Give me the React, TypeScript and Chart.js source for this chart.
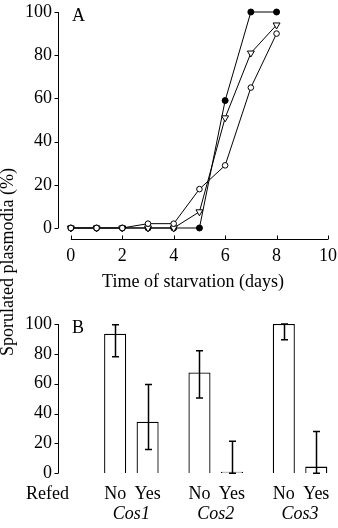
import { useEffect, useRef } from "react";
import { Chart, registerables } from "chart.js";

Chart.register(...registerables);

// Panel A: sporulation over time of starvation
const days = [0, 1, 2, 3, 4, 5, 6, 7, 8];
const filledCircleSeries = [0, 0, 0, 0, 0, 0, 59, 100, 100];
const openTriangleSeries = [0, 0, 0, 0, 0, 7.5, 51, 81, 94];
const openCircleSeries = [0, 0, 0, 2, 2, 18, 29, 65, 90];
const dayTicks = [0, 2, 4, 6, 8, 10];
const percentTicks = [0, 20, 40, 60, 80, 100];

// Panel B: sporulation with / without refeeding
const genes = ["Cos1", "Cos2", "Cos3"];
const refedLabels = ["No", "Yes"];
const notRefed = [93.5, 67.5, 100];
const notRefedLow = [78, 50.5, 89.5];
const notRefedHigh = [99.5, 82, 100];
const refed = [34.5, 0, 4.5];
const refedLow = [16, 0, 0];
const refedHigh = [59.5, 21.5, 28];

const SERIF = '"Liberation Serif", "Times New Roman", serif';
const FONT_SIZE = 18;
const W = 338;
const A_H = 300;
const B_TOP = 300;
const B_H = 228;

type AxisOpts = {
  yFrom: number;
  yTo: number;
  xFrom?: number;
  xTo?: number;
  xTickValues?: number[];
  panel: string;
};

// Detached axis lines with short tick marks, plus the panel letter
function axesPlugin(o: AxisOpts) {
  return {
    id: "detachedAxes",
    afterDraw(chart: any) {
      const { ctx, chartArea, scales } = chart;
      const xs = scales.x;
      const ys = scales.y;
      ctx.save();
      ctx.strokeStyle = "#000";
      ctx.lineWidth = 1;
      const left = Math.round(chartArea.left) + 0.5;
      const yTop = ys.getPixelForValue(o.yTo);
      const yBot = ys.getPixelForValue(o.yFrom);
      ctx.beginPath();
      ctx.moveTo(left, yTop);
      ctx.lineTo(left, yBot);
      percentTicks.forEach((v) => {
        const p = Math.round(ys.getPixelForValue(v)) + 0.5;
        ctx.moveTo(left, p);
        ctx.lineTo(left - 4, p);
      });
      ctx.stroke();
      if (o.xFrom !== undefined && o.xTo !== undefined) {
        const bottom = Math.round(chartArea.bottom) + 0.5;
        ctx.beginPath();
        ctx.moveTo(xs.getPixelForValue(o.xFrom), bottom);
        ctx.lineTo(xs.getPixelForValue(o.xTo), bottom);
        (o.xTickValues || []).forEach((v) => {
          const p = Math.round(xs.getPixelForValue(v)) + 0.5;
          ctx.moveTo(p, bottom);
          ctx.lineTo(p, bottom - 4);
        });
        ctx.stroke();
      }
      ctx.fillStyle = "#000";
      ctx.font = `${FONT_SIZE}px ${SERIF}`;
      ctx.textAlign = "left";
      ctx.textBaseline = "alphabetic";
      ctx.fillText(o.panel, chartArea.left + 14, ys.getPixelForValue(100) + 9);
      ctx.restore();
    },
  };
}

// Error bars and the Refed No/Yes row under the bars
const errorBarsPlugin = {
  id: "errorBars",
  afterDatasetsDraw(chart: any) {
    const { ctx, scales } = chart;
    const ys = scales.y;
    const lows = [notRefedLow, refedLow];
    const highs = [notRefedHigh, refedHigh];
    ctx.save();
    ctx.strokeStyle = "#000";
    ctx.lineWidth = 1.5;
    chart.data.datasets.forEach((_: any, d: number) => {
      const meta = chart.getDatasetMeta(d);
      meta.data.forEach((el: any, i: number) => {
        const x = Math.round(el.x) + 0.5;
        const yl = ys.getPixelForValue(lows[d][i]);
        const yh = ys.getPixelForValue(highs[d][i]);
        ctx.beginPath();
        ctx.moveTo(x, yl);
        ctx.lineTo(x, yh);
        ctx.moveTo(x - 3.5, yh);
        ctx.lineTo(x + 3.5, yh);
        ctx.moveTo(x - 3.5, yl);
        ctx.lineTo(x + 3.5, yl);
        ctx.stroke();
      });
    });
    ctx.restore();
  },
  afterDraw(chart: any) {
    const { ctx, chartArea } = chart;
    ctx.save();
    ctx.fillStyle = "#000";
    ctx.font = `${FONT_SIZE}px ${SERIF}`;
    ctx.textBaseline = "alphabetic";
    const base = chartArea.bottom + 26;
    ctx.textAlign = "left";
    ctx.fillText("Refed", chartArea.left - 32, base);
    ctx.textAlign = "center";
    chart.data.datasets.forEach((_: any, d: number) => {
      chart.getDatasetMeta(d).data.forEach((el: any) => {
        ctx.fillText(refedLabels[d], el.x, base);
      });
    });
    ctx.restore();
  },
};

const tickFont = { family: SERIF, size: FONT_SIZE };

// Fixed axis box sizes so the plot areas line up between the two panels
const fixHeight = (h: number) => (s: any) => {
  s.height = h;
  s.paddingLeft = 0;
  s.paddingRight = 0;
};
const fixWidth = (w: number) => (s: any) => {
  s.width = w;
  s.paddingTop = 0;
  s.paddingBottom = 0;
};

export default function App() {
  const refA = useRef<HTMLCanvasElement>(null);
  const refB = useRef<HTMLCanvasElement>(null);

  useEffect(() => {
    const pts = (vals: number[]) => days.map((d, i) => ({ x: d, y: vals[i] }));
    const lineDs = (label: string, vals: number[], style: string, fill: string, r: number, rot = 0) => ({
      label,
      data: pts(vals),
      borderColor: "#000",
      borderWidth: 1,
      pointStyle: style,
      pointRotation: rot,
      pointRadius: r,
      pointBackgroundColor: fill,
      pointBorderColor: "#000",
      pointBorderWidth: 1,
      clip: false,
    });

    const chartA = new Chart(refA.current!, {
      type: "line",
      data: {
        datasets: [
          lineDs("open circles", openCircleSeries, "circle", "#fff", 2.8),
          lineDs("open triangles", openTriangleSeries, "triangle", "#fff", 4, 180),
          lineDs("filled circles", filledCircleSeries, "circle", "#000", 3),
        ] as any,
      },
      options: {
        animation: false,
        responsive: false,
        layout: { padding: { top: 12, right: 10, left: 0, bottom: 0 } },
        plugins: { legend: { display: false }, tooltip: { enabled: false } },
        scales: {
          x: {
            type: "linear",
            min: -0.5,
            max: 10,
            afterBuildTicks: (s: any) => {
              s.ticks = dayTicks.map((v) => ({ value: v }));
            },
            afterFit: fixHeight(A_H - 239),
            grid: { display: false, drawTicks: false },
            border: { display: false },
            ticks: { font: tickFont, color: "#000", padding: 6, maxRotation: 0, autoSkip: false },
            title: {
              display: true,
              text: "Time of starvation (days)",
              font: tickFont,
              color: "#000",
              padding: { top: 0, bottom: 7 },
            },
          },
          y: {
            type: "linear",
            min: -5.1,
            max: 100,
            afterBuildTicks: (s: any) => {
              s.ticks = percentTicks.map((v) => ({ value: v }));
            },
            afterFit: fixWidth(58),
            grid: { display: false, drawTicks: false },
            border: { display: false },
            ticks: { font: tickFont, color: "#000", padding: 6 },
          },
        },
      },
      plugins: [axesPlugin({ yFrom: 0, yTo: 100, xFrom: 0, xTo: 10, xTickValues: dayTicks, panel: "A" })],
    });

    const barDs = (label: string, vals: number[]) => ({
      label,
      data: genes.map((_, i) => ({ x: i + 1, y: vals[i] })),
      backgroundColor: "#fff",
      borderColor: "#000",
      borderWidth: 1.3,
      categoryPercentage: 0.77,
      barPercentage: 0.68,
      minBarLength: 1.5,
    });

    const chartB = new Chart(refB.current!, {
      type: "bar",
      data: { datasets: [barDs("No", notRefed), barDs("Yes", refed)] as any },
      options: {
        animation: false,
        responsive: false,
        layout: { padding: { top: 24, right: 0, left: 0, bottom: 0 } },
        plugins: { legend: { display: false }, tooltip: { enabled: false } },
        scales: {
          x: {
            type: "linear",
            offset: false,
            min: 0.13,
            max: 3.45,
            afterBuildTicks: (s: any) => {
              s.ticks = genes.map((_, i) => ({ value: i + 1 }));
            },
            afterFit: fixHeight(B_H - 173.3),
            grid: { display: false, drawTicks: false, offset: false },
            border: { display: false },
            ticks: {
              font: { family: SERIF, size: FONT_SIZE, style: "italic" },
              color: "#000",
              padding: 30,
              maxRotation: 0,
              autoSkip: false,
              callback: (_v: any, i: number) => genes[i],
            },
          },
          y: {
            type: "linear",
            min: 0,
            max: 100,
            afterBuildTicks: (s: any) => {
              s.ticks = percentTicks.map((v) => ({ value: v }));
            },
            afterFit: fixWidth(58),
            grid: { display: false, drawTicks: false },
            border: { display: false },
            ticks: { font: tickFont, color: "#000", padding: 6 },
          },
        },
      },
      plugins: [axesPlugin({ yFrom: 0, yTo: 100, panel: "B" }), errorBarsPlugin],
    });

    return () => {
      chartA.destroy();
      chartB.destroy();
    };
  }, []);

  return (
    <div style={{ position: "absolute", left: 0, top: 0, width: W, height: 528, background: "#fff" }}>
      <canvas ref={refA} width={W} height={A_H} style={{ position: "absolute", left: 0, top: 0, display: "block" }} />
      <canvas
        ref={refB}
        width={W}
        height={B_H}
        style={{ position: "absolute", left: 0, top: B_TOP, display: "block" }}
      />
      <div
        style={{
          position: "absolute",
          left: 7,
          top: 261.5,
          transform: "translate(-50%, -50%) rotate(-90deg)",
          whiteSpace: "nowrap",
          fontFamily: SERIF,
          fontSize: FONT_SIZE,
          lineHeight: 1,
          color: "#000",
        }}
      >
        Sporulated plasmodia (%)
      </div>
    </div>
  );
}
